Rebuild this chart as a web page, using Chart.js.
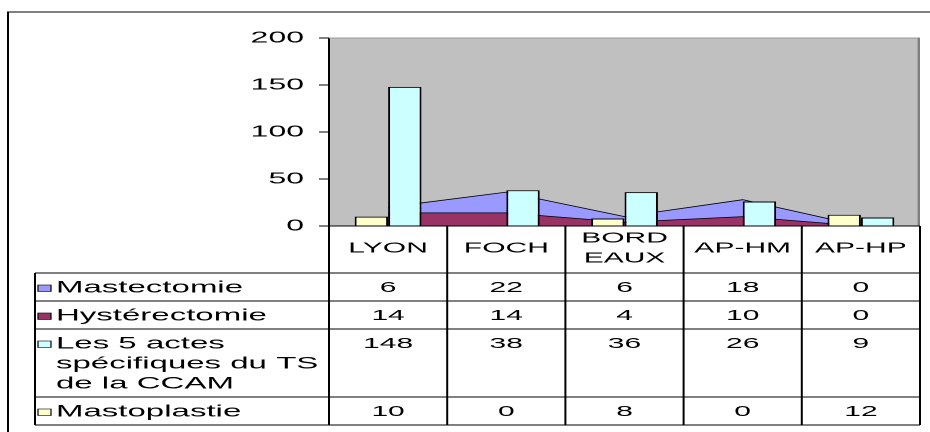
<!DOCTYPE html>
<html>
<head>
<meta charset="utf-8">
<script src="https://cdn.jsdelivr.net/npm/chart.js@4.4.1/dist/chart.umd.min.js"></script>
<style>
  html, body { margin: 0; padding: 0; background: #fff; overflow: hidden; }
  /* the reference is stretched twice as wide as it is tall, so draw at half width and stretch */
  #wrap { width: 465px; height: 432px; transform: scaleX(2); transform-origin: 0 0; }
</style>
</head>
<body>
<div id="wrap"><canvas id="chart" width="465" height="432"></canvas></div>
<script>
const categories = ['LYON', 'FOCH', ['BORD', 'EAUX'], 'AP-HM', 'AP-HP'];
const mastectomie = [6, 22, 6, 18, 0];
const hysterectomie = [14, 14, 4, 10, 0];
const actesTS = [148, 38, 36, 26, 9];
const mastoplastie = [10, 0, 8, 0, 12];
const yTicks = [0, 50, 100, 150, 200];

const colors = {
  mastectomie: '#9999FF',
  hysterectomie: '#993366',
  actesTS: '#CCFFFF',
  mastoplastie: '#FFFFCC',
  plot: '#C0C0C0'
};

// rows of the data table under the chart, in the order of the reference
const rows = [
  { label: ['Mastectomie'], values: mastectomie, color: colors.mastectomie },
  { label: ['Hystérectomie'], values: hysterectomie, color: colors.hysterectomie },
  { label: ['Les 5 actes', 'spécifiques du TS', 'de la CCAM'], values: actesTS, color: colors.actesTS },
  { label: ['Mastoplastie'], values: mastoplastie, color: colors.mastoplastie }
];

const FAMILY = '"Liberation Sans", Arial, sans-serif';

const plotBackground = {
  id: 'plotBackground',
  beforeDraw(chart) {
    const { ctx, chartArea: a } = chart;
    ctx.save();
    ctx.fillStyle = colors.plot;
    ctx.fillRect(a.left, a.top, a.right - a.left, a.bottom - a.top);
    ctx.restore();
  },
  afterDraw(chart) {
    const { ctx, chartArea: a } = chart;
    ctx.save();
    ctx.strokeStyle = '#999999';
    ctx.lineWidth = 1;
    ctx.beginPath();
    ctx.moveTo(a.left, a.top);
    ctx.lineTo(a.right, a.top);
    ctx.stroke();
    ctx.strokeStyle = '#808080';
    ctx.lineWidth = 1.2;
    ctx.beginPath();
    ctx.moveTo(a.right - 0.6, a.top);
    ctx.lineTo(a.right - 0.6, a.bottom);
    ctx.stroke();
    // outer frame (only the left and top edges are in view)
    ctx.strokeStyle = '#000';
    ctx.lineWidth = 1;
    ctx.beginPath();
    ctx.moveTo(4, chart.height);
    ctx.lineTo(4, 12);
    ctx.lineTo(chart.width, 12);
    ctx.stroke();
    ctx.restore();
  }
};

const dataTable = {
  id: 'dataTable',
  afterDraw(chart) {
    const { ctx, chartArea: a } = chart;
    const xs = chart.scales.x;
    const colW = (a.right - a.left) / categories.length;
    const tableLeft = 17.5;
    const headerH = 47;
    const lineH = 20;

    const rowTops = [];
    let y = a.bottom + headerH;
    rows.forEach(r => {
      rowTops.push(y);
      y += 28 + lineH * (r.label.length - 1);
    });
    const tableBottom = y;

    const line = (x1, y1, x2, y2) => {
      ctx.beginPath();
      ctx.moveTo(x1, y1);
      ctx.lineTo(x2, y2);
      ctx.stroke();
    };

    ctx.save();
    ctx.strokeStyle = '#000';
    ctx.lineWidth = 1;
    line(a.left, a.bottom, a.right, a.bottom);
    for (let i = 0; i <= categories.length; i++) {
      const x = a.left + i * colW;
      line(x, a.bottom, x, tableBottom);
    }
    line(tableLeft, rowTops[0], tableLeft, tableBottom);
    rowTops.concat([tableBottom]).forEach(yy => line(tableLeft, yy, a.right, yy));

    ctx.font = '15px ' + FAMILY;
    ctx.fillStyle = '#000';
    ctx.textBaseline = 'middle';
    ctx.textAlign = 'center';
    categories.forEach((c, i) => {
      const lines = [].concat(c);
      const cx = xs.getPixelForValue(i);
      const cy = a.bottom + 22.5 - (lines.length - 1) * lineH / 2;
      lines.forEach((t, k) => ctx.fillText(t, cx, cy + k * lineH));
    });

    rows.forEach((r, ri) => {
      const cy = rowTops[ri] + 15;
      ctx.fillStyle = r.color;
      ctx.fillRect(19, cy - 3, 6.5, 6.5);
      ctx.lineWidth = 0.6;
      ctx.strokeRect(19, cy - 3, 6.5, 6.5);
      ctx.fillStyle = '#000';
      ctx.textAlign = 'left';
      ctx.font = '16.5px ' + FAMILY;
      r.label.forEach((t, k) => ctx.fillText(t, 28, cy + k * lineH));
      ctx.font = '15px ' + FAMILY;
      ctx.textAlign = 'center';
      r.values.forEach((v, i) => ctx.fillText(String(v), xs.getPixelForValue(i), cy));
    });
    ctx.restore();
  }
};

Chart.defaults.font.family = FAMILY;
Chart.defaults.font.size = 15;
Chart.defaults.color = '#000';

new Chart(document.getElementById('chart'), {
  type: 'bar',
  data: {
    labels: categories,
    datasets: [
      {
        type: 'line', label: 'Hystérectomie', data: hysterectomie, stack: 'aires',
        fill: 'origin', backgroundColor: colors.hysterectomie, borderColor: '#000',
        borderWidth: 0.8, pointRadius: 0, tension: 0, order: 2
      },
      {
        type: 'line', label: 'Mastectomie', data: mastectomie, stack: 'aires',
        fill: '-1', backgroundColor: colors.mastectomie, borderColor: '#000',
        borderWidth: 0.8, pointRadius: 0, tension: 0, order: 2
      },
      {
        label: 'Mastoplastie', data: mastoplastie, stack: 'b1',
        backgroundColor: colors.mastoplastie, borderColor: '#000', borderWidth: 1, order: 1
      },
      {
        label: 'Les 5 actes spécifiques du TS de la CCAM', data: actesTS, stack: 'b2',
        backgroundColor: colors.actesTS, borderColor: '#000', borderWidth: 1, order: 1
      }
    ]
  },
  options: {
    responsive: false,
    devicePixelRatio: 2,
    animation: false,
    events: [],
    layout: { padding: { left: 0, top: 38, right: 5, bottom: 206 } },
    datasets: { bar: { barPercentage: 1, categoryPercentage: 0.566 } },
    plugins: { legend: { display: false }, tooltip: { enabled: false } },
    scales: {
      x: { display: false },
      y: {
        stacked: true,
        min: 0,
        max: 200,
        afterBuildTicks: s => { s.ticks = yTicks.map(v => ({ value: v })); },
        afterFit: s => { s.width = 164.5; },
        ticks: { padding: 7.5, color: '#000', font: { size: 16 } },
        grid: { drawOnChartArea: false, drawTicks: true, tickLength: 5, color: '#000' },
        border: { color: '#000', width: 1 }
      }
    }
  },
  plugins: [plotBackground, dataTable]
});
</script>
</body>
</html>
